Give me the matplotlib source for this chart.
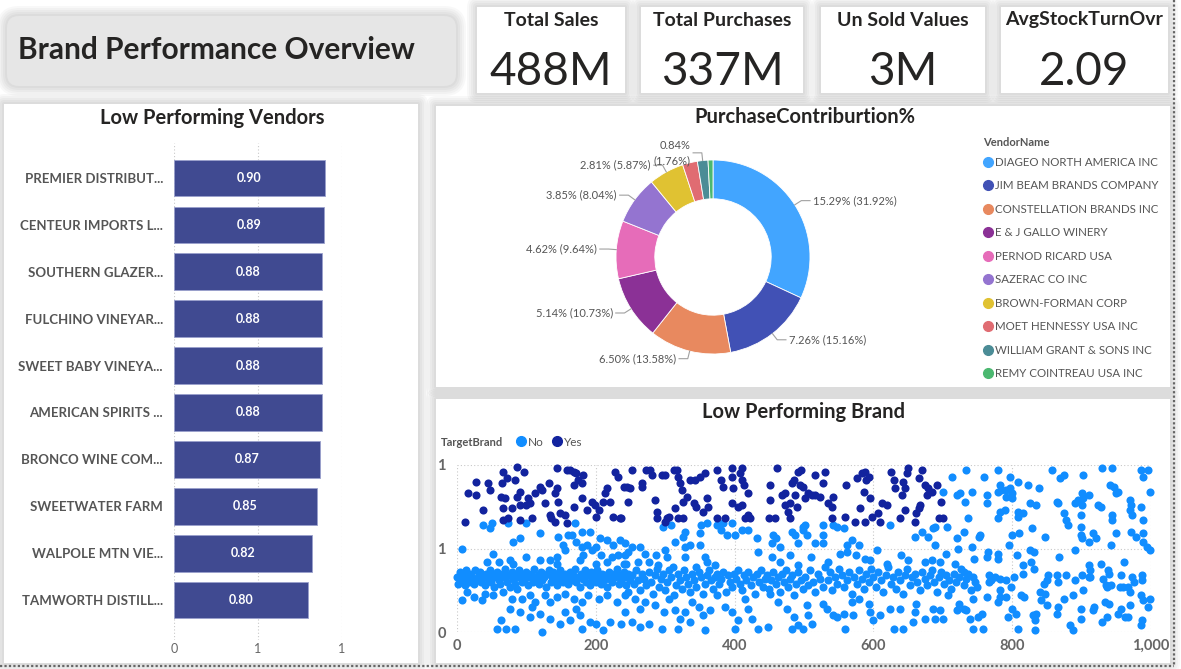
import matplotlib
matplotlib.use('Agg')
from matplotlib import pyplot as plt
from matplotlib.patches import FancyBboxPatch
from matplotlib.lines import Line2D
import numpy as np

plt.rcParams['font.family'] = ['Lato', 'DejaVu Sans']

### Data ###
kpi_titles = ['Total Sales', 'Total Purchases', 'Un Sold Values', 'AvgStockTurnOvr']
kpi_values = ['488M', '337M', '3M', '2.09']

vendors = ['PREMIER DISTRIBUT...', 'CENTEUR IMPORTS L...', 'SOUTHERN GLAZER...',
           'FULCHINO VINEYAR...', 'SWEET BABY VINEYA...', 'AMERICAN SPIRITS ...',
           'BRONCO WINE COM...', 'SWEETWATER FARM', 'WALPOLE MTN VIE...',
           'TAMWORTH DISTILL...']
vendor_values = [0.90, 0.89, 0.88, 0.88, 0.88, 0.88, 0.87, 0.85, 0.82, 0.80]

pc_vendors = ['DIAGEO NORTH AMERICA INC', 'JIM BEAM BRANDS COMPANY', 'CONSTELLATION BRANDS INC',
              'E & J GALLO WINERY', 'PERNOD RICARD USA', 'SAZERAC CO INC', 'BROWN-FORMAN CORP',
              'MOET HENNESSY USA INC', 'WILLIAM GRANT & SONS INC', 'REMY COINTREAU USA INC']
pc_share = [31.92, 15.16, 13.58, 10.73, 9.64, 8.04, 5.87, 2.48, 1.76, 0.82]
pc_total_pct = [15.29, 7.26, 6.50, 5.14, 4.62, 3.85, 2.81, None, 0.84, None]
pc_colors = ['#42A5FF', '#4151B5', '#E8895F', '#8B3196', '#E66CB9',
             '#9474D0', '#E0C232', '#E06C72', '#4B8C96', '#4BB870']

# TargetBrand = Yes  (x, y)
brand_yes = [
    (12, 0.66), (28, 0.90), (28, 0.82), (16, 0.83), (37, 0.73), (45, 0.89), (48, 0.85),
    (67, 0.96), (65, 0.89), (72, 0.92), (84, 0.91), (86, 0.99), (96, 0.96), (64, 0.81),
    (69, 0.80), (67, 0.74), (79, 0.74), (67, 0.67), (74, 0.68), (91, 0.84), (86, 0.81),
    (91, 0.76), (91, 0.67), (103, 0.80), (105, 0.77), (100, 0.76), (108, 0.68), (112, 0.83),
    (120, 0.87), (122, 0.85), (127, 0.77), (132, 0.89), (134, 0.70), (136, 0.68), (141, 0.66),
    (144, 0.98), (141, 0.83), (144, 0.86), (146, 0.78), (148, 0.71), (158, 0.97), (163, 0.97),
    (156, 0.70), (158, 0.65), (168, 0.88), (169, 0.96), (172, 0.95), (175, 0.91), (180, 0.89),
    (168, 0.75), (180, 0.80), (182, 0.94), (187, 0.73), (194, 0.78), (199, 0.76), (201, 0.69),
    (204, 0.73), (211, 0.78), (213, 0.83), (216, 0.86), (220, 0.78), (225, 0.69), (228, 0.96),
    (232, 0.93), (235, 0.68), (240, 0.87), (237, 0.68),
    (252, 0.97), (245, 0.87), (249, 0.86), (247, 0.78), (266, 0.89), (266, 0.87), (273, 0.97),
    (278, 0.97), (281, 0.94), (285, 0.79), (288, 0.72), (288, 0.68), (295, 0.94), (300, 0.94),
    (302, 0.68), (305, 0.69), (300, 0.66), (312, 0.97), (317, 0.97), (319, 0.93), (321, 0.89),
    (324, 0.85), (331, 0.81), (326, 0.78), (314, 0.74), (319, 0.68), (326, 0.68), (336, 0.91),
    (343, 0.91), (350, 0.93), (357, 0.95), (360, 0.80), (362, 0.75), (355, 0.72), (341, 0.77),
    (345, 0.75), (374, 0.97), (374, 0.68), (386, 0.68), (384, 0.87), (381, 0.91), (396, 0.98),
    (396, 0.93), (398, 0.86), (396, 0.77), (405, 0.75), (410, 0.76), (408, 0.95), (410, 0.98),
    (410, 0.91), (415, 0.68), (420, 0.70), (422, 0.68), (420, 0.83), (413, 0.88), (451, 0.88),
    (451, 0.79), (449, 0.68), (461, 0.98), (458, 0.68), (468, 0.82), (473, 0.83), (473, 0.76),
    (480, 0.77), (477, 0.72), (480, 0.68), (482, 0.89), (485, 0.91), (492, 0.96), (490, 0.75),
    (494, 0.88), (487, 0.82),
    (496, 0.97), (498, 0.87), (502, 0.80), (506, 0.83), (511, 0.82), (516, 0.82), (523, 0.81),
    (516, 0.94), (528, 0.89), (530, 0.96), (535, 0.77), (540, 0.75), (540, 0.68), (542, 0.81),
    (559, 0.69), (561, 0.88), (576, 0.92), (583, 0.95), (588, 0.96), (593, 0.93), (590, 0.91),
    (586, 0.84), (595, 0.80), (581, 0.74), (574, 0.66), (588, 0.66), (598, 0.69), (607, 0.71),
    (610, 0.66), (612, 0.77), (619, 0.76), (626, 0.96), (629, 0.91), (631, 0.86), (638, 0.68),
    (641, 0.82), (646, 0.86), (643, 0.90), (648, 0.95), (650, 0.98), (646, 0.73), (662, 0.71),
    (665, 0.74), (667, 0.76), (660, 0.66), (665, 0.92), (670, 0.97), (674, 0.88), (679, 0.86),
    (677, 0.82), (684, 0.84), (691, 0.88), (698, 0.78), (694, 0.68), (701, 0.68),
]

# TargetBrand = No  (x, y), read region by region
brand_no_a = [
    (38, 0.64), (50, 0.65), (48, 0.62), (74, 0.65), (100, 0.65), (119, 0.59), (81, 0.54),
    (91, 0.56), (146, 0.57), (160, 0.58), (165, 0.58), (170, 0.65), (180, 0.60), (192, 0.60),
    (201, 0.51), (206, 0.56), (216, 0.55), (225, 0.52), (235, 0.55), (242, 0.53), (7, 0.50),
    (52, 0.47), (153, 0.52), (155, 0.49), (172, 0.54), (180, 0.51), (187, 0.52), (194, 0.49),
    (182, 0.46), (208, 0.46), (223, 0.45), (232, 0.46), (242, 0.46), (43, 0.42), (60, 0.42),
    (76, 0.43), (81, 0.41), (100, 0.45), (119, 0.43), (134, 0.43), (144, 0.45), (144, 0.41),
    (177, 0.43), (201, 0.41), (216, 0.42), (240, 0.41),
    (0, 0.33), (2, 0.29), (4, 0.36), (6, 0.31), (9, 0.34), (11, 0.28), (13, 0.37), (15, 0.32),
    (17, 0.30), (19, 0.35), (22, 0.33), (24, 0.29), (26, 0.37), (28, 0.31), (31, 0.34),
    (33, 0.36), (35, 0.30), (37, 0.33), (40, 0.28), (42, 0.35), (44, 0.32), (47, 0.37),
    (49, 0.30), (51, 0.34), (53, 0.27), (56, 0.33), (58, 0.36), (60, 0.31), (62, 0.29),
    (65, 0.35), (67, 0.33), (69, 0.38), (72, 0.30), (74, 0.34), (76, 0.27), (79, 0.36),
    (81, 0.32), (83, 0.29), (86, 0.35), (88, 0.33), (90, 0.37), (93, 0.30), (95, 0.34),
    (97, 0.31), (100, 0.36), (102, 0.28), (104, 0.33), (107, 0.35), (109, 0.30), (111, 0.38),
    (114, 0.32), (116, 0.34), (118, 0.29), (121, 0.36), (123, 0.31), (125, 0.33), (128, 0.27),
    (130, 0.35), (132, 0.37), (135, 0.30), (137, 0.33), (139, 0.36), (142, 0.31), (144, 0.28),
    (146, 0.34), (149, 0.37), (151, 0.32), (153, 0.30), (156, 0.35), (158, 0.33), (160, 0.29),
    (163, 0.36), (165, 0.31), (167, 0.34), (170, 0.38), (172, 0.30), (174, 0.33), (177, 0.27),
    (179, 0.35), (181, 0.32), (184, 0.37), (186, 0.30), (188, 0.34), (191, 0.28), (193, 0.36),
    (195, 0.32), (198, 0.34), (200, 0.30), (202, 0.37), (205, 0.33), (207, 0.29), (209, 0.35),
    (212, 0.31), (214, 0.34), (216, 0.27), (219, 0.36), (221, 0.32), (223, 0.30), (226, 0.35),
    (228, 0.33), (230, 0.38), (233, 0.29), (235, 0.34), (237, 0.31), (240, 0.36), (242, 0.33),
    (244, 0.28), (247, 0.35), (249, 0.31),
    (7, 0.19), (14, 0.24), (24, 0.21), (36, 0.19), (40, 0.23), (52, 0.22), (67, 0.24),
    (79, 0.20), (86, 0.26), (93, 0.20), (105, 0.22), (112, 0.18), (127, 0.22), (134, 0.18),
    (144, 0.21), (156, 0.23), (168, 0.20), (180, 0.18), (189, 0.22), (204, 0.20), (216, 0.22),
    (230, 0.18), (242, 0.22), (76, 0.14), (64, 0.07), (57, 0.02), (71, 0.02), (83, 0.02),
    (105, 0.09), (122, 0.00), (119, 0.11), (134, 0.08), (156, 0.12), (172, 0.14), (177, 0.10),
    (180, 0.02), (192, 0.06), (201, 0.05), (211, 0.01), (220, 0.06), (237, 0.05), (242, 0.12),
    (148, 0.05), (163, 0.07), (108, 0.15), (91, 0.12),
]
brand_no_b = [
    (309, 0.64), (297, 0.63), (329, 0.60), (326, 0.57), (314, 0.54), (329, 0.51), (336, 0.52),
    (352, 0.64), (360, 0.65), (350, 0.59), (350, 0.52), (374, 0.64), (384, 0.65), (381, 0.61),
    (389, 0.58), (396, 0.65), (401, 0.58), (410, 0.61), (420, 0.61), (432, 0.56), (434, 0.48),
    (456, 0.58), (460, 0.56), (466, 0.51), (454, 0.53), (482, 0.60), (487, 0.58), (492, 0.53),
    (499, 0.63), (252, 0.51), (264, 0.51), (247, 0.48), (271, 0.47), (287, 0.46), (299, 0.49),
    (302, 0.45), (329, 0.45), (357, 0.45), (360, 0.42), (372, 0.40), (454, 0.45), (466, 0.42),
    (480, 0.46), (492, 0.40), (244, 0.41), (261, 0.42), (276, 0.42), (290, 0.40), (311, 0.39),
    (345, 0.39),
    (252, 0.34), (255, 0.29), (258, 0.37), (261, 0.31), (264, 0.25), (267, 0.35), (270, 0.32),
    (273, 0.28), (276, 0.36), (279, 0.30), (282, 0.23), (285, 0.34), (288, 0.38), (291, 0.27),
    (294, 0.32), (297, 0.35), (300, 0.25), (303, 0.30), (306, 0.37), (309, 0.33), (312, 0.22),
    (315, 0.28), (318, 0.35), (321, 0.31), (324, 0.26), (327, 0.37), (330, 0.33), (333, 0.29),
    (336, 0.24), (339, 0.35), (342, 0.31), (345, 0.27), (348, 0.36), (351, 0.33), (354, 0.23),
    (357, 0.29), (360, 0.34), (363, 0.37), (366, 0.31), (369, 0.26), (372, 0.33), (375, 0.35),
    (378, 0.29), (381, 0.32), (384, 0.36), (387, 0.24), (390, 0.34), (393, 0.30), (396, 0.27),
    (399, 0.35), (402, 0.32), (405, 0.37), (408, 0.29), (411, 0.25), (414, 0.34), (417, 0.31),
    (420, 0.36), (423, 0.28), (426, 0.33), (429, 0.23), (432, 0.35), (435, 0.30), (438, 0.37),
    (441, 0.27), (444, 0.32), (447, 0.34), (450, 0.26), (453, 0.31), (456, 0.36), (459, 0.29),
    (462, 0.33), (465, 0.24), (468, 0.35), (471, 0.30), (474, 0.37), (477, 0.27), (480, 0.32),
    (483, 0.34), (486, 0.22), (489, 0.29), (492, 0.36), (495, 0.31), (498, 0.26),
    (247, 0.24), (257, 0.20), (271, 0.18), (264, 0.14), (286, 0.16), (298, 0.12), (305, 0.20),
    (314, 0.13), (321, 0.08), (329, 0.12), (338, 0.18), (348, 0.15), (355, 0.10), (365, 0.13),
    (374, 0.22), (386, 0.15), (396, 0.12), (405, 0.07), (415, 0.20), (420, 0.14), (425, 0.08),
    (434, 0.02), (448, 0.03), (451, 0.23), (463, 0.18), (475, 0.14), (485, 0.09), (492, 0.04),
    (482, 0.02), (357, 0.01), (401, 0.02), (336, 0.06), (319, 0.02), (295, 0.02), (276, 0.05),
    (252, 0.06), (264, 0.03),
]
brand_no_c = [
    (501, 0.64), (504, 0.58), (499, 0.61), (528, 0.64), (542, 0.64), (547, 0.63), (557, 0.62),
    (528, 0.58), (516, 0.53), (528, 0.53), (569, 0.55), (579, 0.52), (562, 0.52), (562, 0.48),
    (595, 0.43), (575, 0.46), (624, 0.64), (660, 0.57), (670, 0.60), (679, 0.57), (689, 0.52),
    (686, 0.62), (689, 0.63), (706, 0.63), (701, 0.84), (713, 0.93), (720, 0.82), (725, 0.83),
    (734, 0.97), (732, 0.78), (737, 0.68), (742, 0.84), (730, 0.60), (720, 0.56), (722, 0.50),
    (742, 0.51), (752, 0.57), (718, 0.41), (730, 0.36), (674, 0.42), (696, 0.42), (684, 0.43),
    (510, 0.45), (535, 0.42), (552, 0.47), (588, 0.44), (605, 0.49), (620, 0.41), (640, 0.46),
    (650, 0.43), (705, 0.47), (745, 0.44),
    (502, 0.33), (506, 0.28), (509, 0.37), (513, 0.30), (516, 0.24), (520, 0.35), (523, 0.32),
    (527, 0.27), (530, 0.39), (534, 0.31), (537, 0.36), (541, 0.25), (544, 0.33), (548, 0.29),
    (551, 0.38), (555, 0.34), (558, 0.27), (562, 0.31), (565, 0.36), (569, 0.23), (572, 0.33),
    (576, 0.29), (579, 0.37), (583, 0.32), (586, 0.26), (590, 0.35), (593, 0.30), (597, 0.38),
    (600, 0.33), (604, 0.27), (607, 0.36), (611, 0.31), (614, 0.24), (618, 0.34), (621, 0.39),
    (625, 0.29), (628, 0.33), (632, 0.26), (635, 0.36), (639, 0.31), (642, 0.23), (646, 0.34),
    (649, 0.38), (653, 0.28), (656, 0.33), (660, 0.35), (663, 0.30), (667, 0.25), (670, 0.36),
    (674, 0.32), (677, 0.28), (681, 0.34), (684, 0.37), (688, 0.30), (691, 0.24), (695, 0.33),
    (698, 0.36), (702, 0.29), (705, 0.34), (709, 0.31), (712, 0.26), (716, 0.35), (719, 0.30),
    (723, 0.33), (726, 0.38), (730, 0.28), (733, 0.32), (737, 0.35), (740, 0.25), (744, 0.33),
    (747, 0.30),
    (504, 0.16), (506, 0.10), (511, 0.05), (499, 0.02), (528, 0.17), (533, 0.14), (542, 0.10),
    (547, 0.09), (557, 0.11), (559, 0.02), (569, 0.18), (571, 0.10), (579, 0.20), (593, 0.17),
    (595, 0.12), (600, 0.07), (610, 0.10), (624, 0.14), (629, 0.02), (638, 0.14), (643, 0.02),
    (657, 0.06), (660, 0.12), (662, 0.17), (674, 0.08), (686, 0.14), (689, 0.08), (696, 0.13),
    (701, 0.08), (720, 0.13), (730, 0.14), (734, 0.13), (744, 0.02), (723, 0.17), (739, 0.08),
    (744, 0.20), (708, 0.22),
]
brand_no_d = [
    (780, 0.97), (760, 0.93), (797, 0.93), (808, 0.90), (782, 0.88), (784, 0.85), (780, 0.84),
    (791, 0.85), (797, 0.86), (800, 0.83), (791, 0.81), (800, 0.80), (764, 0.82), (764, 0.77),
    (823, 0.88), (838, 0.86), (825, 0.77), (834, 0.76), (782, 0.72), (789, 0.73), (780, 0.68),
    (808, 0.72), (815, 0.71), (808, 0.69), (857, 0.97), (874, 0.94), (869, 0.92), (902, 0.94),
    (929, 0.98), (944, 0.98), (941, 0.88), (946, 0.87), (949, 0.83), (953, 0.84), (986, 0.97),
    (989, 0.93), (996, 0.97), (998, 0.84), (895, 0.79), (900, 0.83), (902, 0.80), (911, 0.82),
    (890, 0.77), (900, 0.76), (864, 0.78), (866, 0.77), (875, 0.71), (878, 0.67), (881, 0.64),
    (899, 0.70), (899, 0.63), (899, 0.58), (900, 0.56), (910, 0.54), (916, 0.59), (921, 0.56),
    (924, 0.76), (928, 0.75), (944, 0.70), (944, 0.67), (970, 0.79), (971, 0.76), (970, 0.73),
    (972, 0.70), (986, 0.75), (989, 0.67), (971, 0.60), (979, 0.57), (989, 0.59), (989, 0.54),
    (994, 0.51), (998, 0.49), (753, 0.58), (800, 0.58), (810, 0.59), (828, 0.62), (847, 0.57),
    (949, 0.59), (943, 0.52),
    (765, 0.48), (763, 0.45), (780, 0.47), (780, 0.44), (796, 0.52), (807, 0.46), (825, 0.49),
    (831, 0.48), (827, 0.42), (831, 0.38), (815, 0.40), (815, 0.35), (868, 0.45), (890, 0.49),
    (911, 0.40), (912, 0.37), (910, 0.33), (928, 0.41), (961, 0.42), (938, 0.37), (940, 0.35),
    (957, 0.34), (973, 0.33), (987, 0.34), (987, 0.31), (767, 0.34), (775, 0.33), (770, 0.31),
    (782, 0.32), (791, 0.31), (767, 0.30), (803, 0.33), (798, 0.27), (852, 0.34), (850, 0.31),
    (846, 0.29), (864, 0.34), (866, 0.30), (878, 0.34), (890, 0.31), (900, 0.34), (912, 0.33),
    (931, 0.32), (935, 0.28), (943, 0.28), (936, 0.27), (955, 0.27), (960, 0.27), (970, 0.24),
    (967, 0.27), (975, 0.30), (749, 0.27), (782, 0.25), (813, 0.22), (817, 0.21), (840, 0.24),
    (847, 0.23), (875, 0.20), (887, 0.22), (902, 0.25), (986, 0.22), (989, 0.19), (763, 0.21),
    (782, 0.21), (791, 0.21),
    (779, 0.18), (800, 0.14), (805, 0.11), (794, 0.09), (750, 0.09), (756, 0.11), (758, 0.02),
    (809, 0.02), (830, 0.10), (835, 0.11), (833, 0.07), (833, 0.01), (842, 0.19), (850, 0.16),
    (866, 0.15), (883, 0.04), (887, 0.01), (899, 0.14), (899, 0.08), (916, 0.13), (918, 0.15),
    (933, 0.18), (936, 0.09), (940, 0.17), (929, 0.06), (957, 0.14), (953, 0.11), (963, 0.09),
    (970, 0.16), (967, 0.09), (985, 0.04), (987, 0.07), (996, 0.15), (998, 0.20), (864, 0.11),
]
brand_no = brand_no_a + brand_no_b + brand_no_c + brand_no_d

### Layout helpers (pixel based, 1181 x 669) ###
W, H = 1181, 669
fig = plt.figure(figsize=(W / 100, H / 100), dpi=100)
fig.patch.set_facecolor('white')
TXT = '#252423'


def frac(x0, y0, x1, y1):
    return [x0 / W, 1 - y1 / H, (x1 - x0) / W, (y1 - y0) / H]


def panel(x0, y0, x1, y1, face='white', rad=0.0):
    xy = (x0 / 100, (H - y1) / 100)
    w, h = (x1 - x0) / 100, (y1 - y0) / 100
    for pad in [0.10, 0.08, 0.06, 0.04, 0.02]:
        fig.add_artist(FancyBboxPatch(xy, w, h, boxstyle=f'round,pad={pad},rounding_size={rad + pad}',
                                      transform=fig.dpi_scale_trans, fc='black', ec='none',
                                      alpha=0.028, zorder=-10))
    fig.add_artist(FancyBboxPatch(xy, w, h, boxstyle=f'round,pad=0,rounding_size={rad}',
                                  transform=fig.dpi_scale_trans, fc=face, ec='none', zorder=-9))


# header
panel(7, 16, 456, 86, face='#E6E6E6', rad=0.12)
fig.text(18 / W, 1 - 50 / H, 'Brand Performance Overview', fontsize=21.5, fontweight='bold',
         color=TXT, va='center', ha='left')

cards = [(477, 7, 625, 93), (641, 7, 803, 93), (821, 7, 985, 93), (1001, 7, 1168, 93)]
for (x0, y0, x1, y1), t, v in zip(cards, kpi_titles, kpi_values):
    panel(x0, y0, x1, y1)
    cx = (x0 + x1) / 2
    fig.text(cx / W, 1 - 20 / H, t, fontsize=14, fontweight='bold', color=TXT, ha='center', va='center')
    fig.text(cx / W, 1 - 72 / H, v, fontsize=33, color=TXT, ha='center', va='center')

# panels
panel(4, 104, 418, 663)
panel(436, 106, 1170, 387)
panel(436, 399, 1170, 663)

fig.text(212 / W, 1 - 118 / H, 'Low Performing Vendors', fontsize=14.5, fontweight='bold',
         color=TXT, ha='center', va='center')
fig.text(805 / W, 1 - 117 / H, 'PurchaseContriburtion%', fontsize=14.5, fontweight='bold',
         color=TXT, ha='center', va='center')
fig.text(804 / W, 1 - 412 / H, 'Low Performing Brand', fontsize=14.5, fontweight='bold',
         color=TXT, ha='center', va='center')

### Low performing vendors (bar) ###
ax = fig.add_axes(frac(174, 143, 342, 640))
ax.patch.set_alpha(0)
y = np.arange(len(vendors))
ax.barh(y, vendor_values, height=0.78, color='#404A91', edgecolor='#9AA0CC', linewidth=0.6, zorder=3)
for i, v in enumerate(vendor_values):
    ax.text(v / 2, i, f'{v:.2f}', ha='center', va='center', color='white', fontsize=9,
            fontweight='bold', zorder=4)
ax.set_xlim(0, 1)
ax.set_ylim(9.85, -0.745)
ax.set_yticks(y)
ax.set_yticklabels(vendors, fontsize=9.5, fontweight='bold', color='#555555')
ax.set_xticks([0, 0.5, 1])
ax.set_xticklabels(['0', '1', '1'], fontsize=9, color='#666666')
ax.tick_params(length=0)
ax.tick_params(axis='y', pad=8)
ax.tick_params(axis='x', pad=2)
ax.grid(axis='x', linestyle=(0, (1, 2)), color='#C8C8C8', linewidth=0.8)
for s in ax.spines.values():
    s.set_visible(False)

### Purchase contribution (donut) ###
ax = fig.add_axes(frac(553, 97, 873, 417))
ax.patch.set_alpha(0)
wedges, _ = ax.pie(pc_share, colors=pc_colors, startangle=90, counterclock=False, radius=1,
                   wedgeprops=dict(width=0.4, edgecolor='white', linewidth=0.6))
lim = 160 / 97
ax.set_xlim(-lim, lim)
ax.set_ylim(-lim, lim)
ax.set_aspect('equal')
ax.axis('off')
for w, share, tot in zip(wedges, pc_share, pc_total_pct):
    if tot is None:
        continue
    ang = np.deg2rad((w.theta1 + w.theta2) / 2)
    cx, cy = np.cos(ang), np.sin(ang)
    ex, ey = 1.08 * cx, 1.08 * cy
    side = 1 if cx >= 0 else -1
    hx = ex + side * 0.09
    ax.plot([1.0 * cx, ex, hx], [1.0 * cy, ey, ey], color='#A0A0A0', lw=0.8, clip_on=False)
    label = f'{tot:.2f}% ({share:.2f}%)'
    if share < 2:
        label = f'{tot:.2f}%\n({share:.2f}%)'
    ax.text(hx + side * 0.03, ey, label, ha='left' if side > 0 else 'right', va='center',
            fontsize=8, color='#555555', linespacing=1.5)

fig.text(983 / W, 1 - 143 / H, 'VendorName', fontsize=8, fontweight='bold', color='#555555',
         ha='left', va='center')
handles = [Line2D([], [], marker='o', ls='', color=c, markersize=7) for c in pc_colors]
fig.legend(handles, pc_vendors, loc='upper left', bbox_to_anchor=(981 / W, 1 - 157 / H),
           frameon=False, fontsize=8.3, handletextpad=0.0, handlelength=1.2, labelspacing=1.08,
           borderaxespad=0, borderpad=0, labelcolor='#555555')

### Low performing brand (scatter) ###
ax = fig.add_axes(frac(457, 465, 1151, 632))
ax.patch.set_alpha(0)
nx, ny = zip(*brand_no)
yx, yy = zip(*brand_yes)
ax.scatter(nx, ny, s=34, color='#118DFF', linewidths=0, clip_on=False, zorder=3)
ax.scatter(yx, yy, s=34, color='#12239E', linewidths=0, clip_on=False, zorder=3)
ax.set_xlim(0, 1000)
ax.set_ylim(0, 1)
ax.set_xticks([0, 200, 400, 600, 800, 1000])
ax.set_xticklabels(['0', '200', '400', '600', '800', '1,000'], fontsize=10.5, fontweight='bold',
                   color='#666666')
ax.set_yticks([0, 0.5, 1])
ax.set_yticklabels(['0', '1', '1'], fontsize=10.5, fontweight='bold', color='#666666')
ax.tick_params(length=0)
ax.tick_params(axis='x', pad=5)
ax.tick_params(axis='y', pad=8)
ax.grid(True, linestyle=(0, (1, 2)), color='#C8C8C8', linewidth=0.8)
ax.set_axisbelow(True)
for s in ax.spines.values():
    s.set_visible(False)

fig.text(441 / W, 1 - 442 / H, 'TargetBrand', fontsize=8, fontweight='bold', color='#555555',
         ha='left', va='center')
h2 = [Line2D([], [], marker='o', ls='', color=c, markersize=7) for c in ['#118DFF', '#12239E']]
fig.legend(h2, ['No', 'Yes'], ncol=2, loc='center left', bbox_to_anchor=(515 / W, 1 - 442 / H),
           frameon=False, fontsize=8.5, handletextpad=0.1, handlelength=1.0, columnspacing=0.6,
           borderpad=0, borderaxespad=0, labelcolor='#555555')

# dotted page borders
fig.add_artist(Line2D([1174 / W, 1174 / W], [1, 1 - 666 / H], transform=fig.transFigure,
                      color='#666666', lw=1.6, ls=(0, (1, 1))))
fig.add_artist(Line2D([0, 1174 / W], [1 - 666 / H, 1 - 666 / H], transform=fig.transFigure,
                      color='#666666', lw=1.6, ls=(0, (1, 1))))

fig.savefig('out.png', dpi=100)
